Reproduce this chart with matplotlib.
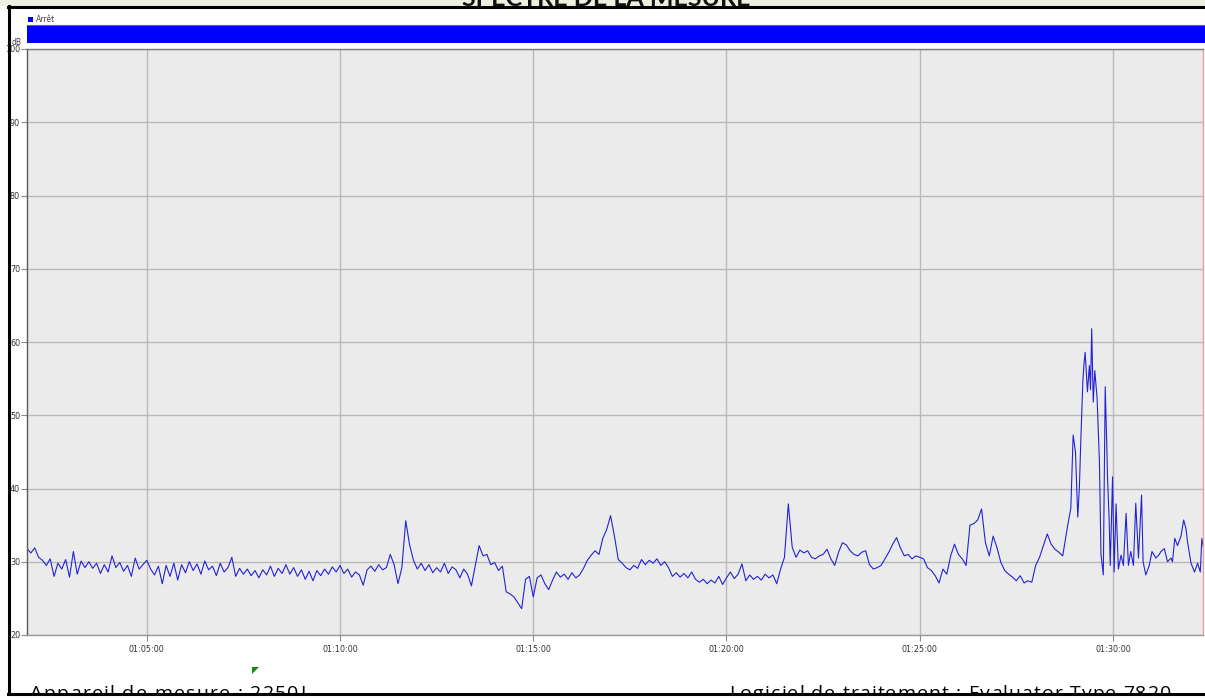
import matplotlib
matplotlib.use("Agg")
import matplotlib.pyplot as plt
import numpy as np
from matplotlib import font_manager, ft2font
from matplotlib.lines import Line2D
from matplotlib.patches import Rectangle, Polygon
from matplotlib.transforms import Bbox, TransformedBbox

# sound level readings (dB), minutes after 01:00:00, one reading every 0.1 min
t_first = 1.9
t_step = 0.1
level_a = [31.8, 31.2, 31.9, 30.6, 30.2, 29.5, 30.4, 28.0, 29.8, 29.0,
           30.3, 27.9, 31.4, 28.3, 30.1, 29.2, 30.0, 29.1, 29.8, 28.4,
           29.6, 28.6, 30.8, 29.2, 29.9, 28.7, 29.5, 28.0, 30.5, 29.0,
           29.6, 30.2]
level_b = [29.0, 28.2, 29.4, 27.0, 29.5, 28.0, 29.8, 27.5, 29.6, 28.5,
           30.0, 28.8, 29.7, 28.3, 30.1, 28.9, 29.4, 28.1, 29.8, 28.6,
           29.2, 30.6, 28.0, 29.1, 28.3, 29.0, 28.1, 28.8, 27.8, 28.9,
           28.2, 29.4, 28.0, 29.1, 28.4, 29.6, 28.3, 29.2, 28.0, 28.9,
           27.6, 28.7, 27.4, 28.8, 28.1, 29.0, 28.3, 29.3, 28.6, 29.5]
level_c = [28.4, 29.0, 27.9, 28.6, 28.2, 26.8, 28.9, 29.4, 28.7, 29.6,
           28.9, 29.2, 31.0, 29.6, 27.0, 29.2, 35.6, 32.3, 30.2, 29.0,
           29.8]
level_d = [28.8, 29.6, 28.5, 29.2, 28.6, 29.8, 28.4, 29.3, 28.9, 27.8,
           29.0, 28.3, 26.7, 29.5, 32.2, 30.8, 31.0, 29.6, 29.9, 28.8,
           29.4, 25.9, 25.6, 25.2, 24.4, 23.6, 27.6, 28.0, 25.2, 27.8,
           28.2, 27.0, 26.2, 27.5, 28.6, 27.9, 28.3, 27.6, 28.5, 27.8,
           28.2, 29.1, 30.2, 30.9, 31.5, 31.0, 33.2, 34.4, 36.3, 33.5,
           30.3, 29.8, 29.2, 28.9, 29.5, 29.1, 30.3, 29.6, 30.2, 29.8,
           30.4, 29.5, 30.0, 29.2, 28.0, 28.5, 27.9, 28.4, 27.8, 28.6,
           27.6, 27.2, 27.6, 27.0, 27.5, 27.1, 28.0, 26.9, 27.8, 28.6,
           27.7, 28.3, 29.7, 27.4, 28.2, 27.6, 28.0, 27.5, 28.3, 27.8,
           28.2, 27.0, 29.0, 30.6, 37.9, 32.0, 30.6, 31.6, 31.2, 31.5,
           30.6, 30.4]
level_e = [30.8, 31.0, 31.7, 30.4, 29.5, 31.3, 32.6, 32.3, 31.5, 31.0,
           30.8, 31.3, 31.5, 29.6, 29.0, 29.2, 29.5, 30.4, 31.3, 32.4,
           33.3, 31.9, 30.8, 31.0, 30.4, 30.8, 30.6, 30.4, 29.2, 28.8,
           28.1, 27.1, 29.0, 28.3, 30.8, 32.4, 31.0, 30.4, 29.5, 35.0,
           35.2, 35.7, 37.2, 32.6, 30.8, 33.5, 31.9, 29.9, 28.8, 28.3,
           27.9, 27.4, 28.1, 27.1, 27.4, 27.2, 29.5, 30.6, 32.2, 33.8,
           32.4, 31.7, 31.3, 30.8, 34.0]

# the burst near 01:29, read at irregular times
burst_t = [28.83, 28.91, 28.97, 29.03, 29.09, 29.13, 29.17, 29.22, 29.25, 29.28,
           29.32, 29.34, 29.39, 29.42, 29.45, 29.49, 29.53, 29.59, 29.65, 29.69,
           29.75, 29.80, 29.84, 29.86, 29.90, 29.93, 29.99, 30.03, 30.08, 30.14,
           30.21, 30.27, 30.34, 30.40, 30.46, 30.53, 30.59, 30.66, 30.74, 30.78,
           30.85, 30.94, 31.01, 31.11, 31.20, 31.24, 31.33, 31.41, 31.50, 31.54,
           31.60, 31.67, 31.76, 31.83, 31.89, 31.93, 32.02, 32.11, 32.19, 32.26,
           32.30, 32.34]
burst_v = [35.0, 37.3, 47.3, 45.0, 36.1, 40.0, 46.8, 54.5, 57.0, 58.6,
           55.0, 53.2, 56.8, 53.5, 61.8, 51.8, 56.1, 52.3, 43.6, 31.0,
           28.2, 53.9, 46.0, 41.4, 36.0, 29.5, 41.6, 28.6, 37.9, 29.0,
           30.9, 29.5, 36.6, 29.5, 31.4, 29.5, 38.0, 30.5, 39.1, 30.0,
           28.2, 29.5, 31.4, 30.5, 31.0, 31.4, 31.8, 30.0, 30.5, 30.0,
           33.2, 32.2, 33.5, 35.7, 34.5, 32.7, 29.8, 28.6, 29.8, 28.6,
           33.2, 32.0]

# marker state bar
state_names = ["Arrêt"]
state_spans = [(1.9, 30.5)]
state_colors = ["#0000ff"]

x_min, x_max = 1.9, 32.33
y_ticks = [20, 30, 40, 50, 60, 70, 80, 90, 100]
x_ticks = [5, 10, 15, 20, 25, 30]
x_labels = ["01:%02d:00" % m for m in x_ticks]

regular = np.array(level_a + level_b + level_c + level_d + level_e)
t_regular = t_first + t_step * np.arange(len(regular))
t_all = np.concatenate([t_regular, burst_t])
v_all = np.concatenate([regular, burst_v])

W, H = 1205, 698
def fx(px):
    return px / W
def fy(py):
    return 1 - py / H

fig = plt.figure(figsize=(W / 100, H / 100), dpi=100)
fig.patch.set_facecolor("white")

narrow = ["Liberation Sans Narrow", "DejaVu Sans"]


def char_advances(text, family, size_pt):
    # horizontal advance of each character, in pixels at 100 dpi
    path = font_manager.findfont(font_manager.FontProperties(family=family))
    font = ft2font.FT2Font(path)
    font.set_size(size_pt, 100)
    if hasattr(ft2font, "LoadFlags"):
        flag = ft2font.LoadFlags.NO_HINTING
    else:
        flag = ft2font.LOAD_NO_HINTING
    return [font.load_char(ord(ch), flags=flag).linearHoriAdvance / 65536 for ch in text]


def spaced_text(x_px, y_px, text, width_px, family, size_pt, **kw):
    # text with extra letter spacing so that it fills width_px
    adv = char_advances(text, family, size_pt)
    extra = (width_px - sum(adv)) / (len(text) - 1)
    x = x_px
    for ch, a in zip(text, adv):
        if ch != " ":
            fig.text(fx(x), fy(y_px), ch, family=family, fontsize=size_pt, **kw)
        x += a + extra


# main plot
ax = fig.add_axes([fx(27), fy(635), fx(1203) - fx(27), fy(49) - fy(635)])
ax.set_facecolor("#ebebeb")
ax.plot(t_all, v_all, color="#2323d6", lw=0.8)
ax.set_xlim(x_min, x_max)
ax.set_ylim(20, 100)
ax.set_yticks(y_ticks)
ax.set_xticks(x_ticks)
ax.set_xticklabels(x_labels)
ax.grid(color="#b9b9b9", lw=1)
ax.set_axisbelow(True)
ax.tick_params(axis="y", length=4, width=0.8, color="#8a8a8a", pad=1, labelsize=6.5, labelcolor="#333333")
ax.tick_params(axis="x", length=4, width=0.8, color="#8a8a8a", pad=3, labelsize=6.5, labelcolor="#333333")
for lbl in ax.get_yticklabels() + ax.get_xticklabels():
    lbl.set_family(narrow)
    lbl.set_stretch("condensed")
ax.spines["left"].set_color("#5a5a5a")
ax.spines["top"].set_color("#7a7a7a")
ax.spines["bottom"].set_color("#9a9a9a")
ax.spines["right"].set_color("#e8a0a0")
for s in ax.spines.values():
    s.set_linewidth(1)

# state bar above the plot
sax = fig.add_axes([fx(27), fy(43), fx(1205) - fx(27), fy(25) - fy(43)], sharex=ax)
for (start, dur), col in zip(state_spans, state_colors):
    sax.broken_barh([(start, dur)], (0, 1), facecolors=col)
sax.set_ylim(0, 1)
sax.set_xlim(x_min, x_max)
sax.axis("off")
fig.add_artist(Line2D([fx(27), 1], [fy(25), fy(25)], transform=fig.transFigure, color="#666666", lw=0.8))

# legend for the state bar
fig.patches.append(Rectangle((fx(28), fy(22)), fx(5), 5 / H, transform=fig.transFigure,
                             facecolor=state_colors[0], edgecolor="none"))
fig.text(fx(36), fy(22), state_names[0], fontsize=5.5, color="#444444", family=narrow)
fig.text(fx(12), fy(45), "dB", fontsize=5.5, color="#444444", family=narrow)

# header band and title, cut by the frame line
fig.patches.append(Rectangle((0, fy(6)), 1, 6 / H, transform=fig.transFigure,
                             facecolor="#ebf1de", edgecolor="none", zorder=0))
title = fig.text(fx(606), fy(6), "SPECTRE DE LA MESURE", ha="center", va="baseline",
                 fontsize=18, fontweight="bold", family="Lato", color="#111111")
title.set_clip_box(TransformedBbox(Bbox([[0, fy(6)], [1, 1]]), fig.transFigure))
title.set_clip_on(True)

# footer texts
spaced_text(30, 699, "Appareil de mesure : 2250L", 280, "Open Sans", 14, zorder=1)
spaced_text(729, 699, "Logiciel de traitement : Evaluator Type 7820", 442, "Open Sans", 14, zorder=1)
fig.patches.append(Polygon([(fx(252), fy(667)), (fx(259), fy(667)), (fx(252), fy(674))],
                           closed=True, transform=fig.transFigure, facecolor="#1a8a1a",
                           edgecolor="none"))

# frame
fig.patches.append(Rectangle((0, 0), 1, fy(695), transform=fig.transFigure,
                             facecolor="white", edgecolor="none", zorder=5))
fig.add_artist(Line2D([fx(8), 1], [fy(6.5), fy(6.5)], transform=fig.transFigure,
                      color="black", lw=2.2, zorder=6))
fig.add_artist(Line2D([fx(9), fx(9)], [fy(694), fy(6)], transform=fig.transFigure,
                      color="black", lw=2.2, zorder=6))
fig.add_artist(Line2D([fx(8), 1], [fy(693.5), fy(693.5)], transform=fig.transFigure,
                      color="black", lw=2.2, zorder=6))

fig.savefig("out.png", dpi=100)
